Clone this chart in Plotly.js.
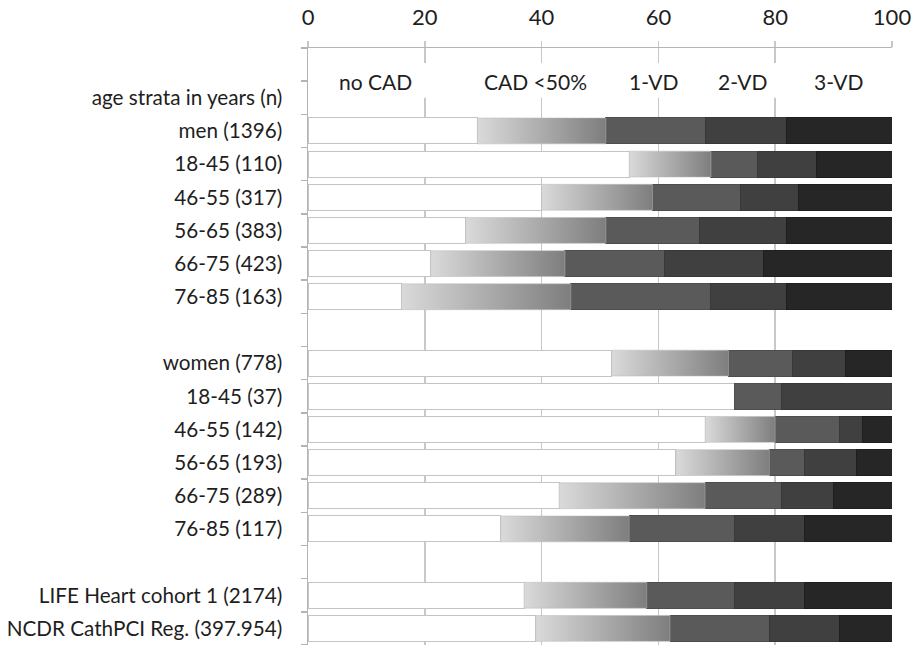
<!DOCTYPE html>
<html><head><meta charset="utf-8">
<script src="https://cdn.plot.ly/plotly-3.0.1.min.js"></script>
<style>html,body{margin:0;padding:0;background:#fff}#chart{width:911px;height:645px}</style>
</head><body><div id="chart"></div>
<script>
// all rows, top to bottom ('' = empty spacer row)
const rowLabels = ['', 'age strata in years (n)',
  'men (1396)', '18-45 (110)', '46-55 (317)', '56-65 (383)', '66-75 (423)', '76-85 (163)', ' ',
  'women (778)', '18-45 (37)', '46-55 (142)', '56-65 (193)', '66-75 (289)', '76-85 (117)', '  ',
  'LIFE Heart cohort 1 (2174)', 'NCDR CathPCI Reg. (397.954)'];
// rows carrying data
const groups = ['men (1396)', '18-45 (110)', '46-55 (317)', '56-65 (383)', '66-75 (423)', '76-85 (163)',
  'women (778)', '18-45 (37)', '46-55 (142)', '56-65 (193)', '66-75 (289)', '76-85 (117)',
  'LIFE Heart cohort 1 (2174)', 'NCDR CathPCI Reg. (397.954)'];
const noCAD   = [29, 55, 40, 27, 21, 16, 52, 73, 68, 63, 43, 33, 37, 39];
const cadLt50 = [22, 14, 19, 24, 23, 29, 20,  0, 12, 16, 25, 22, 21, 23];
const vd1     = [17,  8, 15, 16, 17, 24, 11,  8, 11,  6, 13, 18, 15, 17];
const vd2     = [14, 10, 10, 15, 17, 13,  9, 19,  4,  9,  9, 12, 12, 12];
const vd3     = [18, 13, 16, 18, 22, 18,  8,  0,  5,  6, 10, 15, 15,  9];
const columnNames = ['no CAD', 'CAD <50%', '1-VD', '2-VD', '3-VD'];
const columnPos   = [11.5, 39, 59.3, 74.5, 91];

const FONT = 'Lato, "Open Sans", sans-serif';
const yPos = groups.map(g => rowLabels.indexOf(g));
const BW = 0.78;

function bar(x, fill, line, name){
  return {type:'bar', orientation:'h', x:x, y:yPos, width:BW, name:name,
    marker:{color:fill, line:{color:line, width:1}}, hoverinfo:'x+name'};
}
const traces = [
  bar(noCAD, '#ffffff', '#c4c4c4', 'no CAD'),
  bar(cadLt50, 'rgba(0,0,0,0)', 'rgba(0,0,0,0)', 'CAD <50%'),
  bar(vd1, '#5a5a5a', '#4e4e4e', '1-VD'),
  bar(vd2, '#404040', '#383838', '2-VD'),
  bar(vd3, '#262626', '#1e1e1e', '3-VD')
];
// gradient-filled CAD <50% segments
groups.forEach((g, i) => {
  if (cadLt50[i] <= 0) return;
  const x0 = noCAD[i], x1 = noCAD[i] + cadLt50[i];
  const y = yPos[i], h = BW / 2;
  traces.push({type:'scatter', mode:'lines', x:[x0, x1, x1, x0, x0], y:[y-h, y-h, y+h, y+h, y-h],
    fill:'toself', line:{width:0.5, color:'#b8b8b8'}, hoverinfo:'skip',
    fillgradient:{type:'horizontal', colorscale:[[0,'#dadada'],[1,'#7e7e7e']]}});
});

const annotations = columnNames.map((t, i) => ({x:columnPos[i], y:0.52, xref:'x', yref:'y', text:t,
  showarrow:false, font:{family:FONT, size:21, color:'#1e1e1e'}}));

const layout = {
  width:911, height:645, margin:{l:308, r:19, t:48, b:0},
  paper_bgcolor:'#fff', plot_bgcolor:'#fff', showlegend:false, barmode:'stack',
  font:{family:FONT, size:21, color:'#1e1e1e'},
  xaxis:{side:'top', range:[0,100], tickvals:[0,20,40,60,80,100], showgrid:true, gridcolor:'#c8c8c8', gridwidth:1.5,
    showline:true, linecolor:'#b4b4b4', linewidth:1.5, ticks:'outside', ticklen:6, tickcolor:'#c8c8c8', tickwidth:1.5,
    tickfont:{family:FONT, size:22, color:'#1e1e1e'}, ticklabeloverflow:'allow', ticklabelstandoff:7,
    zeroline:false, fixedrange:true},
  yaxis:{range:[17.5,-0.5], tickvals:rowLabels.map((_, i) => i), ticktext:rowLabels, ticks:'', showgrid:false,
    zeroline:false, showline:true, linecolor:'#b4b4b4', linewidth:1.5, ticklabelstandoff:20,
    tickfont:{family:FONT, size:20.7, color:'#1e1e1e'}, ticklabeloverflow:'allow',
    minor:{tickvals:rowLabels.map((_, i) => i - 0.5).concat([rowLabels.length - 0.5]), ticks:'outside', ticklen:6,
      tickcolor:'#b4b4b4', tickwidth:1.5, showgrid:false}, fixedrange:true},
  shapes:[{type:'rect', layer:'between', xref:'x', yref:'y', x0:0.4, x1:99.6, y0:-0.05, y1:1.0,
    fillcolor:'#fff', line:{width:0}}],
  annotations:annotations
};
Plotly.newPlot('chart', traces, layout, {displayModeBar:false, staticPlot:true});
</script></body></html>
